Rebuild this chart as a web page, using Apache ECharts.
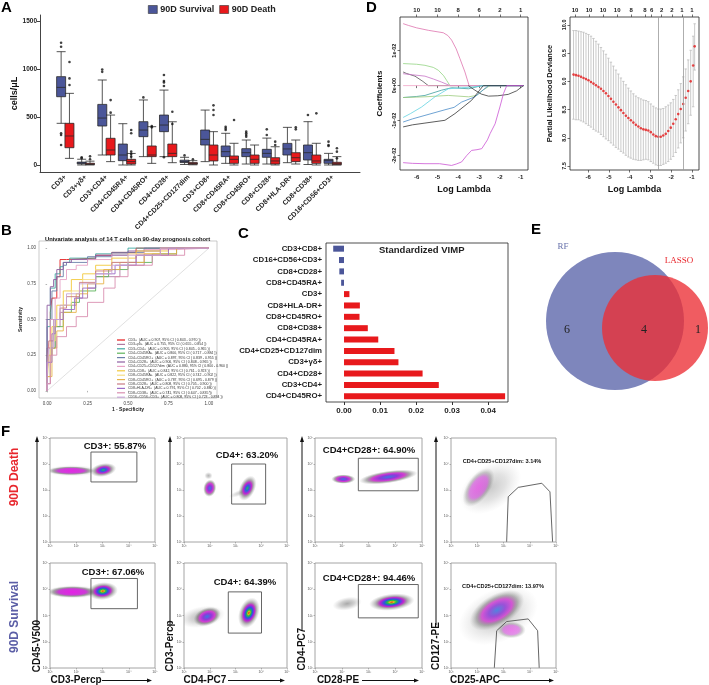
<!DOCTYPE html>
<html>
<head>
<meta charset="utf-8">
<script src="https://cdn.jsdelivr.net/npm/echarts@6/dist/echarts.min.js"></script>
<style>
html, body { margin: 0; padding: 0; background: #fff; }
#page { position: relative; width: 709px; height: 685px; overflow: hidden; }
.layer { position: absolute; left: 0; top: 0; width: 709px; height: 685px; }
</style>
</head>
<body>
<div id="page">
	<div class="layer" id="chartB"></div>
	<div class="layer" id="chartA"></div>
	<div class="layer" id="chartC"></div>
	<div class="layer" id="chartD"></div>
	<div class="layer" id="chartE"></div>
	<div class="layer" id="chartF"></div>
</div>
<script type="text/javascript">
var FONT = '"Liberation Sans", Arial, sans-serif';
var SERIF = '"Liberation Serif", "DejaVu Serif", serif';

// ---------- A: boxplots ----------
var cellTypes = ['CD3+', 'CD3+γδ+', 'CD3+CD4+', 'CD4+CD45RA+', 'CD4+CD45RO+', 'CD4+CD28+', 'CD4+CD25+CD127dim',
	'CD3+CD8+', 'CD8+CD45RA+', 'CD8+CD45RO+', 'CD8+CD28+', 'CD8+HLA-DR+', 'CD8+CD38+', 'CD16+CD56+CD3+'];
// [min, Q1, median, Q3, max]
var survivalBox = [
	[434, 711, 808, 920, 1180], [0, 12, 20, 30, 60], [104, 406, 489, 631, 885], [0, 45, 104, 218, 430],
	[87, 295, 364, 451, 677], [87, 347, 416, 520, 780], [5, 25, 35, 50, 80], [35, 208, 267, 364, 572],
	[17, 87, 139, 198, 330], [10, 87, 128, 170, 260], [10, 80, 121, 163, 280], [24, 104, 167, 225, 392],
	[5, 52, 128, 208, 451], [0, 17, 45, 59, 121]
];
var deathBox = [
	[69, 180, 302, 434, 746], [0, 5, 10, 18, 40], [35, 104, 156, 278, 520], [0, 10, 35, 59, 120],
	[17, 87, 104, 198, 399], [24, 87, 121, 218, 450], [2, 8, 15, 25, 45], [0, 42, 104, 208, 347],
	[0, 17, 59, 94, 226], [0, 17, 59, 104, 208], [0, 10, 42, 76, 190], [10, 35, 76, 128, 260],
	[0, 17, 42, 104, 226], [0, 3, 14, 28, 87]
];
var survivalOut = [[0, 1273], [0, 1232], [0, 330], [0, 312], [0, 208], [1, 80], [1, 70], [2, 995], [2, 970],
	[4, 704], [5, 937], [5, 874], [5, 860], [5, 822], [5, 80], [6, 100], [8, 399], [8, 381], [8, 364],
	[9, 347], [9, 330], [9, 312], [9, 295], [10, 371], [10, 312], [12, 520], [13, 243], [13, 208], [13, 198]];
var deathOut = [[0, 1072], [0, 902], [0, 833], [1, 90], [1, 60], [2, 676], [2, 545], [3, 364], [3, 330],
	[3, 139], [3, 114], [3, 87], [4, 406], [4, 392], [5, 555], [5, 427], [6, 60], [7, 621], [7, 572], [7, 520],
	[8, 468], [10, 243], [10, 208], [11, 392], [11, 371], [12, 538], [13, 174], [13, 139], [13, 69]];
var pLabels = ['P=2.0e-13', 'P=4.2e-06', 'P=2.5e-13', 'P=5.8e-08', 'P=7.4e-13', 'P=2.1e-13', 'P=2.1e-12',
	'P=6.7e-10', 'P=5.8e-09', 'P=2.1e-07', 'P=3.4e-10', 'P=1.5e-07', 'P=1.3e-05', 'P=2.4e-08'];
var pHeights = [1360, 115, 1058, 545, 791, 979, 115, 711, 486, 389, 347, 590, 573, 312];
var yTicksA = [0, 500, 1000, 1500];

// ---------- B: ROC ----------
var rocLegend = [
	'CD3+  (AUC = 0.907, 95% CI ( 0.843 - 0.970 ))', 'CD3+γδ+  (AUC = 0.755, 95% CI ( 0.655 - 0.854 ))',
	'CD3+CD4+  (AUC = 0.905, 95% CI ( 0.845 - 0.965 ))', 'CD4+CD45RA+  (AUC = 0.800, 95% CI ( 0.717 - 0.884 ))',
	'CD4+CD45RO+  (AUC = 0.897, 95% CI ( 0.839 - 0.955 ))', 'CD4+CD28+  (AUC = 0.906, 95% CI ( 0.848 - 0.965 ))',
	'CD4+CD25+CD127dim  (AUC = 0.880, 95% CI ( 0.800 - 0.960 ))', 'CD3+CD8+  (AUC = 0.842, 95% CI ( 0.761 - 0.923 ))',
	'CD8+CD45RA+  (AUC = 0.822, 95% CI ( 0.742 - 0.902 ))', 'CD8+CD45RO+  (AUC = 0.787, 95% CI ( 0.695 - 0.879 ))',
	'CD8+CD28+  (AUC = 0.808, 95% CI ( 0.705 - 0.900 ))', 'CD8+HLA-DR+  (AUC = 0.791, 95% CI ( 0.702 - 0.880 ))',
	'CD8+CD38+  (AUC = 0.741, 95% CI ( 0.647 - 0.835 ))', 'CD16+CD56+CD3+  (AUC = 0.808, 95% CI ( 0.723 - 0.894 ))'
];
var rocColors = ['#E41A1C', '#B07AA1', '#3FA7A0', '#5DB35A', '#6A7FA8', '#8E5EA2', '#E7A3C6',
	'#F2C83B', '#F5DE86', '#E6B34A', '#C97B84', '#9B6BC7', '#D98FB0', '#C9A7D6'];
var rocCurves = [
	[[0, 0], [0, 0.12], [0.02, 0.3], [0.03, 0.55], [0.06, 0.65], [0.08, 0.8], [0.12, 0.92], [0.3, 0.93], [0.4, 0.95], [0.55, 0.97], [0.62, 1], [1, 1]],
	[[0, 0], [0.02, 0.05], [0.05, 0.3], [0.08, 0.45], [0.1, 0.55], [0.18, 0.6], [0.25, 0.65], [0.3, 0.72], [0.45, 0.8], [0.6, 0.88], [0.8, 0.95], [1, 1]],
	[[0, 0], [0, 0.2], [0.02, 0.45], [0.05, 0.72], [0.08, 0.82], [0.1, 0.87], [0.14, 0.9], [0.3, 0.93], [0.5, 0.96], [0.7, 1], [1, 1]],
	[[0, 0], [0.02, 0.1], [0.05, 0.3], [0.1, 0.45], [0.15, 0.55], [0.2, 0.62], [0.3, 0.7], [0.38, 0.8], [0.5, 0.85], [0.65, 0.9], [0.8, 0.96], [1, 1]],
	[[0, 0], [0, 0.15], [0.03, 0.5], [0.06, 0.7], [0.1, 0.8], [0.12, 0.88], [0.25, 0.9], [0.4, 0.94], [0.6, 0.97], [0.75, 1], [1, 1]],
	[[0, 0], [0, 0.3], [0.02, 0.6], [0.04, 0.73], [0.06, 0.78], [0.1, 0.85], [0.15, 0.9], [0.3, 0.92], [0.5, 0.95], [0.7, 0.98], [0.85, 1], [1, 1]],
	[[0, 0], [0.02, 0.2], [0.05, 0.5], [0.08, 0.65], [0.12, 0.78], [0.18, 0.85], [0.25, 0.88], [0.4, 0.92], [0.6, 0.96], [0.8, 0.99], [1, 1]],
	[[0, 0], [0.01, 0.05], [0.03, 0.25], [0.06, 0.45], [0.1, 0.6], [0.15, 0.7], [0.22, 0.78], [0.3, 0.82], [0.4, 0.88], [0.55, 0.93], [0.75, 0.98], [1, 1]],
	[[0, 0], [0.02, 0.1], [0.05, 0.35], [0.1, 0.5], [0.15, 0.6], [0.22, 0.7], [0.3, 0.78], [0.4, 0.85], [0.5, 0.9], [0.7, 0.96], [1, 1]],
	[[0, 0], [0.03, 0.1], [0.06, 0.3], [0.1, 0.42], [0.18, 0.55], [0.25, 0.68], [0.35, 0.75], [0.45, 0.85], [0.6, 0.9], [0.8, 0.96], [1, 1]],
	[[0, 0], [0.01, 0.1], [0.04, 0.35], [0.08, 0.5], [0.12, 0.58], [0.2, 0.66], [0.3, 0.76], [0.4, 0.84], [0.55, 0.9], [0.7, 0.95], [1, 1]],
	[[0, 0], [0.03, 0.2], [0.05, 0.4], [0.1, 0.5], [0.17, 0.57], [0.22, 0.65], [0.3, 0.72], [0.42, 0.82], [0.55, 0.88], [0.75, 0.95], [1, 1]],
	[[0, 0], [0.02, 0.05], [0.06, 0.25], [0.12, 0.38], [0.18, 0.45], [0.25, 0.52], [0.35, 0.62], [0.42, 0.72], [0.5, 0.8], [0.65, 0.88], [0.85, 0.95], [1, 1]],
	[[0, 0], [0.01, 0.1], [0.04, 0.3], [0.08, 0.5], [0.12, 0.6], [0.2, 0.68], [0.3, 0.75], [0.4, 0.82], [0.5, 0.88], [0.7, 0.95], [1, 1]]
];
var rocTicks = [0, 0.25, 0.5, 0.75, 1];

// ---------- C: VIMP ----------
var vimpNames = ['CD3+CD8+', 'CD16+CD56+CD3+', 'CD8+CD28+', 'CD8+CD45RA+', 'CD3+', 'CD8+HLA-DR+', 'CD8+CD45RO+',
	'CD8+CD38+', 'CD4+CD45RA+', 'CD4+CD25+CD127dim', 'CD3+γδ+', 'CD4+CD28+', 'CD3+CD4+', 'CD4+CD45RO+'];
var vimpValues = [-0.003, -0.0014, -0.0013, -0.0008, 0.0015, 0.0044, 0.0043, 0.0066, 0.0095, 0.014, 0.0151, 0.0218, 0.0263, 0.0447];
var vimpTicks = [0, 0.01, 0.02, 0.03, 0.04];

// ---------- D: LASSO ----------
var lassoTicks = [-6, -5, -4, -3, -2, -1];
var lassoTopDf = [10, 10, 8, 6, 2, 1];
var coefTicks = [-0.02, -0.01, 0, 0.01];
var coefTickText = ['-2e-02', '-1e-02', '0e+00', '1e-02'];
var coefColors = ['#DE73AE', '#93D483', '#555555', '#C873C6', '#F0A3C6', '#3E9E9E', '#9CCB7E', '#62D3E2', '#4A8CC8', '#333333', '#3a3a3a', '#CC55D4'];
var coefPaths = [
	[[-6.65, 0.0177], [-6.4, 0.0172], [-6, 0.0165], [-5.44, 0.0158], [-4.72, 0.0151], [-4.5, 0.0143], [-4.32, 0.013], [-4.1, 0.0105], [-3.92, 0.0077], [-3.68, 0.0039], [-3.48, 0], [-0.87, 0]],
	[[-6.65, 0.0063], [-6, 0.0061], [-5.6, 0.0058], [-5.2, 0.0052], [-4.96, 0.0044], [-4.7, 0.0028], [-4.56, 0.0015], [-4.4, 0], [-0.87, 0]],
	[[-6.65, 0.0039], [-6.5, 0.0035], [-6.08, 0.0027], [-5.7, 0.0012], [-5.44, 0], [-0.87, 0]],
	[[-6.65, 0.0034], [-6.2, 0.0031], [-5.6, 0.0027], [-5.2, 0.0019], [-4.8, 0.001], [-4.4, 0], [-0.87, 0]],
	[[-6.65, 0], [-0.87, 0]],
	[[-6.65, -0.0034], [-6, -0.0031], [-5.6, -0.0028], [-4.8, -0.0013], [-4.32, -0.0006], [-3.5, -0.0009], [-2.87, 0], [-0.87, 0]],
	[[-6.65, -0.0034], [-5.6, -0.0032], [-4.48, -0.0028], [-3.5, -0.0032], [-3.12, -0.0028], [-2.8, -0.0012], [-2.47, 0], [-0.87, 0]],
	[[-6.65, -0.0091], [-6.3, -0.008], [-5.76, -0.0061], [-5.12, -0.0032], [-4.48, -0.0009], [-3.84, -0.0006], [-3.3, -0.0004], [-2.7, 0], [-0.87, 0]],
	[[-6.65, -0.0104], [-6.2, -0.0095], [-5.6, -0.0085], [-4.64, -0.0069], [-4.2, -0.0062], [-3.84, -0.0047], [-3.2, -0.0032], [-2.8, -0.0012], [-2.55, 0], [-0.87, 0]],
	[[-6.65, -0.0118], [-6.2, -0.0112], [-5.6, -0.0107], [-4.64, -0.0099], [-4.16, -0.008], [-3.36, -0.0042], [-3.0, -0.0015], [-2.8, 0], [-0.87, 0]],
	[[-3.52, 0], [-3.2, -0.0013], [-2.9, -0.0024], [-2.55, -0.003], [-2.1, -0.0029], [-1.6, -0.0025], [-1.2, -0.0015], [-0.87, 0]],
	[[-6.65, -0.022], [-6.2, -0.0222], [-5.6, -0.0223], [-4.9, -0.0223], [-4.32, -0.0228], [-4.1, -0.0224], [-3.84, -0.0218], [-3.6, -0.02], [-3.36, -0.0185], [-3.1, -0.0183], [-2.87, -0.018], [-2.6, -0.0155], [-2.47, -0.0137], [-2.23, -0.0109], [-2.0, -0.0061], [-1.83, -0.0023], [-1.67, 0], [-0.87, 0]]
];
var cvTopLam = [-6.63, -5.95, -5.28, -4.6, -3.93, -3.26, -2.94, -2.46, -1.96, -1.48, -1.0];
var cvTopDf = [10, 10, 10, 10, 8, 8, 6, 2, 2, 1, 1];
var cvLam = [-6.70, -6.58, -6.46, -6.34, -6.22, -6.10, -5.98, -5.86, -5.74, -5.62, -5.50, -5.38, -5.26, -5.14, -5.02,
	-4.90, -4.78, -4.66, -4.54, -4.42, -4.30, -4.18, -4.06, -3.94, -3.82, -3.70, -3.58, -3.46, -3.34, -3.22, -3.10,
	-2.98, -2.86, -2.74, -2.62, -2.50, -2.38, -2.26, -2.14, -2.02, -1.90, -1.78, -1.66, -1.54, -1.42, -1.30, -1.18,
	-1.06, -0.94, -0.87];
var cvMean = [9.12, 9.11, 9.10, 9.08, 9.06, 9.04, 9.02, 8.99, 8.96, 8.93, 8.90, 8.87, 8.83, 8.79, 8.74, 8.69, 8.64,
	8.59, 8.54, 8.49, 8.44, 8.39, 8.35, 8.31, 8.27, 8.23, 8.20, 8.17, 8.15, 8.14, 8.13, 8.10, 8.06, 8.03, 8.02, 8.02,
	8.04, 8.07, 8.12, 8.18, 8.25, 8.33, 8.42, 8.51, 8.60, 8.71, 8.83, 9.00, 9.28, 9.62];
var cvHi = [9.90, 9.90, 9.89, 9.88, 9.87, 9.85, 9.83, 9.80, 9.76, 9.71, 9.66, 9.60, 9.54, 9.48, 9.41, 9.34, 9.27,
	9.20, 9.13, 9.06, 9.00, 8.94, 8.88, 8.83, 8.78, 8.74, 8.71, 8.69, 8.67, 8.66, 8.64, 8.60, 8.56, 8.53, 8.51, 8.51,
	8.52, 8.55, 8.58, 8.62, 8.68, 8.75, 8.85, 8.96, 9.08, 9.22, 9.38, 9.55, 9.80, 10.02];
var cvLo = [8.33, 8.32, 8.32, 8.30, 8.28, 8.25, 8.22, 8.19, 8.15, 8.12, 8.10, 8.06, 8.02, 7.98, 7.95, 7.91, 7.87,
	7.83, 7.80, 7.76, 7.73, 7.69, 7.66, 7.64, 7.62, 7.61, 7.60, 7.60, 7.61, 7.62, 7.61, 7.58, 7.55, 7.52, 7.51, 7.51,
	7.53, 7.55, 7.58, 7.62, 7.67, 7.74, 7.82, 7.91, 8.00, 8.12, 8.25, 8.40, 8.55, 9.20];
var cvTicks = [7.5, 8, 8.5, 9, 9.5, 10];
var cvChosen = [-2.6, -1.4];

// ---------- E: Venn ----------
var vennSets = ['RF', 'LASSO'];
var vennCounts = [6, 4, 1];

// ---------- F: flow cytometry ----------
var flowDecades = [1, 2, 3, 4, 5];
var flowTickText = ['10¹', '10²', '10³', '10⁴', '10⁵'];
var flowGateText = ['CD3+: 55.87%', 'CD4+: 63.20%', 'CD4+CD28+: 64.90%', 'CD4+CD25+CD127dim: 3.14%',
	'CD3+: 67.06%', 'CD4+: 64.39%', 'CD4+CD28+: 94.46%', 'CD4+CD25+CD127dim: 13.97%'];
var flowXNames = ['CD3-Percp', 'CD4-PC7', 'CD28-PE', 'CD25-APC'];
var flowYNames = ['CD45-V500', 'CD3-Percp', 'CD4-PC7', 'CD127-PE'];
var flowRows = ['90D Death', '90D Survival'];
// populations: [log x, log y, half-width, half-height (decades), angle, colour depth, opacity]
var flowClouds = [
	[[1.85, 3.74, 1.0, 0.22, 0, 0, 0.6], [1.8, 3.74, 0.9, 0.17, 0, 1, 0.95], [3.03, 3.77, 0.5, 0.26, 10, 3, 1]],
	[[1.95, 3.55, 0.16, 0.14, 0, 0, 0.7], [2.0, 3.07, 0.34, 0.25, 80, 2, 1], [3.2, 2.9, 0.5, 0.12, 20, 0, 0.5], [3.46, 3.07, 0.52, 0.3, 65, 3, 1]],
	[[2.06, 3.42, 0.45, 0.18, 0, 2, 1], [3.74, 3.5, 1.1, 0.24, 8, 2, 1]],
	[[2.5, 3.1, 1.3, 0.85, 35, 0, 0.5], [2.05, 3.1, 0.85, 0.45, 55, 1, 0.6]],
	[[1.9, 3.9, 1.05, 0.26, 0, 0, 0.6], [1.85, 3.9, 0.95, 0.22, 0, 1, 1], [3.01, 3.93, 0.58, 0.34, 5, 4, 1]],
	[[1.7, 2.95, 0.9, 0.4, 10, 0, 0.7], [1.9, 2.96, 0.55, 0.34, 20, 2, 1], [3.52, 3.1, 0.62, 0.38, 70, 4, 1]],
	[[2.2, 3.45, 0.55, 0.25, 10, 0, 0.8], [3.87, 3.51, 0.85, 0.32, 6, 4, 1]],
	[[2.8, 3.0, 1.6, 1.0, 25, 0, 0.55], [2.75, 3.2, 1.15, 0.6, 30, 2, 0.85], [3.3, 2.45, 0.55, 0.32, 0, 1, 0.55]]
];
var flowGates = [
	[[2.56, 3.31], [4.31, 3.31], [4.31, 4.46], [2.56, 4.46], [2.56, 3.31]],
	[[2.85, 2.46], [4.17, 2.46], [4.17, 4.0], [2.85, 4.0], [2.85, 2.46]],
	[[2.62, 2.97], [4.86, 2.97], [4.86, 4.22], [2.62, 4.22], [2.62, 2.97]],
	[[3.12, 1.01], [3.18, 2.74], [3.56, 3.10], [4.46, 3.26], [4.77, 2.93], [4.87, 1.01]],
	[[2.56, 3.26], [4.33, 3.26], [4.33, 4.41], [2.56, 4.41], [2.56, 3.26]],
	[[2.72, 2.33], [4.01, 2.33], [4.01, 3.9], [2.72, 3.9], [2.72, 2.33]],
	[[2.62, 2.91], [4.86, 2.91], [4.86, 4.18], [2.62, 4.18], [2.62, 2.91]],
	[[2.65, 1.01], [2.74, 2.42], [3.12, 2.77], [3.94, 2.87], [4.30, 2.42], [4.36, 1.01]]
];

// ====================== A ======================
var chartA = echarts.init(document.getElementById('chartA'));
var boldText = { fontFamily: FONT, fontWeight: 'bold', color: '#222' };
var survivalColor = '#4B5699', deathColor = '#E8191C';
chartA.setOption({
	animation: false,
	textStyle: { fontFamily: FONT },
	legend: {
		top: 0, left: 143, itemWidth: 9, itemHeight: 8, itemGap: 5, icon: 'rect',
		data: [
			{ name: '90D Survival', itemStyle: { color: survivalColor, borderColor: '#333', borderWidth: 0.6 } },
			{ name: '90D Death', itemStyle: { color: deathColor, borderColor: '#333', borderWidth: 0.6 } }
		],
		textStyle: { fontSize: 9, fontWeight: 'bold', color: '#222', padding: [0, 0, 0, -2] }
	},
	grid: [
		{ left: 55, top: 15, width: 288, height: 157, outerBoundsMode: 'none' },
		{ left: 40, top: 15, width: 320, height: 157, outerBoundsMode: 'none' }
	],
	xAxis: [
		{
			type: 'category', gridIndex: 0, data: cellTypes,
			axisLine: { show: false },
			axisTick: { alignWithLabel: true, length: 3, lineStyle: { color: '#444' } },
			axisLabel: Object.assign({ rotate: 45, interval: 0, fontSize: 7, margin: 4 }, boldText)
		},
		{
			type: 'value', gridIndex: 1, min: 0, max: 1,
			axisLine: { lineStyle: { color: '#444', width: 1 } },
			axisTick: { show: false }, axisLabel: { show: false }, splitLine: { show: false }
		}
	],
	yAxis: [
		{
			type: 'value', gridIndex: 0, min: -73, max: 1562, offset: 15,
			axisLine: { show: true, lineStyle: { color: '#444', width: 1 } },
			axisTick: { show: true, length: 3, customValues: yTicksA, lineStyle: { color: '#444' } },
			axisLabel: Object.assign({ customValues: yTicksA, fontSize: 6.5, margin: 3, formatter: function (v) { return String(v); } }, boldText),
			splitLine: { show: false },
			name: 'cells/μL', nameLocation: 'middle', nameGap: 20,
			nameTextStyle: { fontSize: 9, fontWeight: 'bold', color: '#111', fontFamily: FONT }
		},
		{ type: 'value', gridIndex: 1, show: false }
	],
	series: [
		{
			name: '90D Survival', type: 'boxplot', data: survivalBox, boxWidth: [9, 9],
			itemStyle: { color: survivalColor, borderColor: '#2a2a2a', borderWidth: 0.8 }
		},
		{
			name: '90D Death', type: 'boxplot', data: deathBox, boxWidth: [9, 9],
			itemStyle: { color: deathColor, borderColor: '#2a2a2a', borderWidth: 0.8 }
		},
		{
			type: 'scatter', data: survivalOut, symbolSize: 2.6, symbolOffset: [-4.2, 0],
			itemStyle: { color: '#111' }, silent: true
		},
		{
			type: 'scatter', data: deathOut, symbolSize: 2.6, symbolOffset: [4.2, 0],
			itemStyle: { color: '#111' }, silent: true
		},
		{
			type: 'scatter', silent: true, symbolSize: 1, itemStyle: { opacity: 0 },
			data: pHeights.map(function (h, i) { return [i, h]; }),
			label: {
				show: true, position: 'inside', fontSize: 6, fontWeight: 'bold', color: '#333', fontFamily: FONT,
				formatter: function (p) { return pLabels[p.dataIndex]; }
			}
		}
	],
	graphic: [
		{ type: 'text', left: 1, top: 0, style: { text: 'A', font: 'bold 15px ' + FONT, fill: '#000' } },
		{ type: 'text', left: 1, top: 223, style: { text: 'B', font: 'bold 15px ' + FONT, fill: '#000' } },
		{ type: 'text', left: 238, top: 226, style: { text: 'C', font: 'bold 15px ' + FONT, fill: '#000' } },
		{ type: 'text', left: 366, top: 0, style: { text: 'D', font: 'bold 15px ' + FONT, fill: '#000' } },
		{ type: 'text', left: 531, top: 222, style: { text: 'E', font: 'bold 15px ' + FONT, fill: '#000' } },
		{ type: 'text', left: 1, top: 424, style: { text: 'F', font: 'bold 15px ' + FONT, fill: '#000' } }
	]
});

// ====================== B ======================
var chartB = echarts.init(document.getElementById('chartB'));
var rocSeries = [{
	type: 'line', data: [[0, 0], [1, 1]], showSymbol: false, silent: true,
	lineStyle: { color: '#d8d8d8', width: 0.8 }
}];
rocCurves.forEach(function (c, i) {
	rocSeries.push({
		name: cellTypes[i], type: 'line', step: 'start', data: c, showSymbol: false,
		color: rocColors[i], lineStyle: { width: 0.9, color: rocColors[i] }
	});
});
var smallAxisLabel = { fontSize: 4.5, color: '#444', fontFamily: FONT, margin: 3 };
chartB.setOption({
	animation: false,
	title: {
		text: 'Univariate analysis of 14 T cells on 90-day prognosis cohort', left: 40, top: 231,
		textStyle: { fontSize: 5.8, fontWeight: 'bold', color: '#111', fontFamily: FONT }
	},
	grid: { left: 39, top: 241, width: 178, height: 157, show: true, borderColor: '#b5b5b5', borderWidth: 0.7, outerBoundsMode: 'none' },
	legend: {
		orient: 'vertical', left: 112, top: 333, itemWidth: 8, itemHeight: 1.2, itemGap: 0.4, icon: 'rect',
		data: cellTypes,
		formatter: function (n) { return rocLegend[cellTypes.indexOf(n)]; },
		textStyle: { fontSize: 3.5, lineHeight: 3.9, color: '#333', fontFamily: FONT, padding: [0, 0, 0, -2] }
	},
	xAxis: {
		type: 'value', min: -0.05, max: 1.05,
		axisLine: { show: false }, splitLine: { show: false },
		axisTick: { show: true, length: 1.5, customValues: rocTicks, lineStyle: { color: '#666', width: 0.5 } },
		axisLabel: Object.assign({ customValues: rocTicks, formatter: function (v) { return v.toFixed(2); } }, smallAxisLabel),
		name: '1 - Specificity', nameLocation: 'middle', nameGap: 8,
		nameTextStyle: { fontSize: 5, fontWeight: 'bold', color: '#222', fontFamily: FONT }
	},
	yAxis: {
		type: 'value', min: -0.05, max: 1.05,
		axisLine: { show: false }, splitLine: { show: false },
		axisTick: { show: true, length: 1.5, customValues: rocTicks, lineStyle: { color: '#666', width: 0.5 } },
		axisLabel: Object.assign({ customValues: rocTicks, formatter: function (v) { return v.toFixed(2); } }, smallAxisLabel),
		name: 'Sensitivity', nameLocation: 'middle', nameGap: 13,
		nameTextStyle: { fontSize: 5, fontWeight: 'bold', color: '#222', fontFamily: FONT }
	},
	series: rocSeries
});

// ====================== C ======================
var chartC = echarts.init(document.getElementById('chartC'));
chartC.setOption({
	animation: false,
	title: {
		text: 'Standardized VIMP', left: 374, top: 240,
		textStyle: { fontSize: 9.5, fontWeight: 'bold', color: '#222', fontFamily: FONT }
	},
	grid: { left: 326, top: 243, width: 182, height: 159, show: true, borderColor: '#222', borderWidth: 0.8, outerBoundsMode: 'none' },
	yAxis: {
		type: 'category', data: vimpNames, inverse: true,
		axisLine: { show: false },
		axisTick: { alignWithLabel: true, length: 3, lineStyle: { color: '#333' } },
		axisLabel: Object.assign({ fontSize: 7.8, margin: 4, interval: 0 }, boldText)
	},
	xAxis: {
		type: 'value', min: -0.005, max: 0.0455,
		axisLine: { show: false }, splitLine: { show: false },
		axisTick: { show: true, length: 3, customValues: vimpTicks, lineStyle: { color: '#333' } },
		axisLabel: Object.assign({ customValues: vimpTicks, fontSize: 8, margin: 5, formatter: function (v) { return v.toFixed(2); } }, boldText)
	},
	series: [{
		type: 'bar', data: vimpValues, barWidth: 6,
		itemStyle: { color: function (p) { return p.value < 0 ? survivalColor : deathColor; } }
	}]
});

// ====================== D ======================
var chartD = echarts.init(document.getElementById('chartD'));
var tinyBold = { fontSize: 6, fontWeight: 'bold', color: '#222', fontFamily: FONT };
var dNameStyle = { fontSize: 9, fontWeight: 'bold', color: '#111', fontFamily: FONT };
var dTick = { show: true, length: 2.5, lineStyle: { color: '#333', width: 0.7 } };
var coefSeries = coefPaths.map(function (p, i) {
	return {
		type: 'line', xAxisIndex: 0, yAxisIndex: 0, data: p, showSymbol: false, silent: true,
		lineStyle: { width: 0.8, color: coefColors[i] }
	};
});
chartD.setOption({
	animation: false,
	grid: [
		{ left: 400, top: 17, width: 128, height: 153, show: true, borderColor: '#222', borderWidth: 0.8, outerBoundsMode: 'none' },
		{ left: 570, top: 17, width: 129, height: 153, show: true, borderColor: '#222', borderWidth: 0.8, outerBoundsMode: 'none' }
	],
	xAxis: [
		{
			gridIndex: 0, type: 'value', min: -6.8, max: -0.65, position: 'bottom',
			axisLine: { show: false }, splitLine: { show: false },
			axisTick: Object.assign({ customValues: lassoTicks }, dTick),
			axisLabel: Object.assign({ customValues: lassoTicks, margin: 4 }, tinyBold),
			name: 'Log Lambda', nameLocation: 'middle', nameGap: 15, nameTextStyle: dNameStyle
		},
		{
			gridIndex: 0, type: 'value', min: -6.8, max: -0.65, position: 'top',
			axisLine: { show: false }, splitLine: { show: false },
			axisTick: Object.assign({ customValues: lassoTicks }, dTick),
			axisLabel: Object.assign({
				customValues: lassoTicks, margin: 4,
				formatter: function (v) { return String(lassoTopDf[lassoTicks.indexOf(v)]); }
			}, tinyBold)
		},
		{
			gridIndex: 1, type: 'value', min: -6.87, max: -0.66, position: 'bottom',
			axisLine: { show: false }, splitLine: { show: false },
			axisTick: Object.assign({ customValues: lassoTicks }, dTick),
			axisLabel: Object.assign({ customValues: lassoTicks, margin: 4 }, tinyBold),
			name: 'Log Lambda', nameLocation: 'middle', nameGap: 15, nameTextStyle: dNameStyle
		},
		{
			gridIndex: 1, type: 'value', min: -6.87, max: -0.66, position: 'top',
			axisLine: { show: false }, splitLine: { show: false },
			axisTick: Object.assign({ customValues: cvTopLam }, dTick),
			axisLabel: Object.assign({
				customValues: cvTopLam, margin: 4, hideOverlap: false,
				formatter: function (v) { return String(cvTopDf[cvTopLam.indexOf(v)]); }
			}, tinyBold)
		}
	],
	yAxis: [
		{
			gridIndex: 0, type: 'value', min: -0.0241, max: 0.0196,
			axisLine: { show: false }, splitLine: { show: false },
			axisTick: Object.assign({ customValues: coefTicks }, dTick),
			axisLabel: Object.assign({
				customValues: coefTicks, rotate: 90, margin: 3, fontSize: 5.5,
				formatter: function (v) { return coefTickText[coefTicks.indexOf(v)]; }
			}, { fontWeight: 'bold', color: '#222', fontFamily: FONT }),
			name: 'Coefficients', nameLocation: 'middle', nameGap: 16,
			nameTextStyle: { fontSize: 8, fontWeight: 'bold', color: '#111', fontFamily: FONT }
		},
		{
			gridIndex: 1, type: 'value', min: 7.43, max: 10.14,
			axisLine: { show: false }, splitLine: { show: false },
			axisTick: Object.assign({ customValues: cvTicks }, dTick),
			axisLabel: Object.assign({
				customValues: cvTicks, rotate: 90, margin: 3, fontSize: 5.5,
				formatter: function (v) { return v.toFixed(1); }
			}, { fontWeight: 'bold', color: '#222', fontFamily: FONT }),
			name: 'Partial Likelihood Deviance', nameLocation: 'middle', nameGap: 16,
			nameTextStyle: { fontSize: 7.5, fontWeight: 'bold', color: '#111', fontFamily: FONT }
		}
	],
	series: coefSeries.concat([
		{
			type: 'custom', xAxisIndex: 2, yAxisIndex: 1, silent: true,
			encode: { x: 0, y: [1, 2] },
			data: cvLam.map(function (l, i) { return [l, cvLo[i], cvHi[i]]; }),
			renderItem: function (params, api) {
				var top = api.coord([api.value(0), api.value(2)]);
				var bot = api.coord([api.value(0), api.value(1)]);
				var st = { stroke: '#bdbdbd', lineWidth: 0.8 };
				return {
					type: 'group', children: [
						{ type: 'line', shape: { x1: top[0], y1: top[1], x2: bot[0], y2: bot[1] }, style: st },
						{ type: 'line', shape: { x1: top[0] - 1.2, y1: top[1], x2: top[0] + 1.2, y2: top[1] }, style: st },
						{ type: 'line', shape: { x1: bot[0] - 1.2, y1: bot[1], x2: bot[0] + 1.2, y2: bot[1] }, style: st }
					]
				};
			}
		},
		{
			type: 'scatter', xAxisIndex: 2, yAxisIndex: 1, silent: true, symbolSize: 2.6,
			data: cvLam.map(function (l, i) { return [l, cvMean[i]]; }),
			itemStyle: { color: '#E41A1C' },
			markLine: {
				silent: true, symbol: 'none', label: { show: false },
				lineStyle: { color: '#999', type: 'solid', width: 0.8 },
				data: cvChosen.map(function (v) { return { xAxis: v }; })
			}
		}
	])
});

// ====================== E ======================
var chartE = echarts.init(document.getElementById('chartE'));
// circle geometry (layout): centre x, centre y, radius in the hidden frame
var vennGeom = [[70, 76, 69], [110, 83, 53]];
var vennFill = ['#7E86BC', 'rgba(236,46,52,0.78)'];
var vennText = function (x, y, txt, size, fill) {
	return { type: 'text', x: x, y: y, z: 100, style: { text: txt, font: size + 'px ' + SERIF, fill: fill, align: 'center', verticalAlign: 'middle' } };
};
chartE.setOption({
	animation: false,
	grid: { left: 545, top: 245, width: 164, height: 150, show: false, outerBoundsMode: 'none' },
	xAxis: { type: 'value', min: 0, max: 164, show: false },
	yAxis: { type: 'value', min: 0, max: 150, inverse: true, show: false },
	series: [{
		type: 'custom', silent: true, clip: false,
		data: vennSets.map(function (s, i) { return vennGeom[i].concat([i]); }),
		renderItem: function (params, api) {
			var c = api.coord([api.value(0), api.value(1)]);
			var r = api.size([api.value(2), 0])[0];
			return { type: 'circle', shape: { cx: c[0], cy: c[1], r: r }, style: { fill: vennFill[api.value(3)] } };
		}
	}],
	graphic: [
		vennText(563, 247, vennSets[0], 9, '#6670AA'),
		vennText(679, 261, vennSets[1], 9, '#E8262C'),
		vennText(567, 330, String(vennCounts[0]), 12, '#222'),
		vennText(644, 330, String(vennCounts[1]), 12, '#222'),
		vennText(698, 330, String(vennCounts[2]), 12, '#222')
	]
});

// ====================== F ======================
var chartF = echarts.init(document.getElementById('chartF'));
var flowCols = [[50, 105], [184, 103], [315, 107], [451, 105]];   // left, width
var flowRowBox = [[438, 104], [563, 105]];                        // top, height
var flowLabelPos = [[115, 446], [247, 455], [369, 450], [502, 461], [113, 572], [245, 582], [369, 578], [503, 586]];

function cloudFill(level) {
	var grey = 'rgba(100,100,100,0.5)', clear = 'rgba(150,150,150,0)';
	var stops;
	if (level >= 4) {
		stops = [[0, '#D8261A'], [0.1, '#E3B020'], [0.2, '#1FBF45'], [0.34, '#2A55E0'], [0.52, '#C421D2'], [0.7, grey], [1, clear]];
	} else if (level === 3) {
		stops = [[0, '#26C24A'], [0.2, '#2A60E0'], [0.45, '#C423D2'], [0.68, grey], [1, clear]];
	} else if (level === 2) {
		stops = [[0, '#3A78E0'], [0.3, '#8E3AD8'], [0.55, '#D23ED2'], [0.75, grey], [1, clear]];
	} else if (level === 1) {
		stops = [[0, '#E61EE6'], [0.55, '#CC3AD6'], [0.78, grey], [1, clear]];
	} else {
		stops = [[0, 'rgba(90,90,90,0.65)'], [0.5, 'rgba(110,110,110,0.4)'], [1, clear]];
	}
	return new echarts.graphic.RadialGradient(0.5, 0.5, 0.5, stops.map(function (s) { return { offset: s[0], color: s[1] }; }));
}

var fGrids = [], fX = [], fY = [], fSeries = [], fGraphic = [];
var flowAxisLabel = { fontSize: 3.6, color: '#555', fontFamily: FONT, margin: 2, formatter: function (v) { return flowTickText[flowDecades.indexOf(v)]; } };
for (var r = 0; r < 2; r++) {
	for (var c = 0; c < 4; c++) {
		var k = r * 4 + c;
		fGrids.push({
			left: flowCols[c][0], width: flowCols[c][1], top: flowRowBox[r][0], height: flowRowBox[r][1],
			show: true, borderColor: '#9a9a9a', borderWidth: 0.9, backgroundColor: '#fff', outerBoundsMode: 'none'
		});
		fX.push({
			gridIndex: k, type: 'value', min: 1, max: 5, interval: 1,
			axisLine: { show: false }, splitLine: { show: false },
			axisTick: { show: true, length: 1.5, lineStyle: { color: '#777', width: 0.5 } },
			axisLabel: flowAxisLabel
		});
		fY.push({
			gridIndex: k, type: 'value', min: 1, max: 5, interval: 1,
			axisLine: { show: false }, splitLine: { show: false },
			axisTick: { show: true, length: 1.5, lineStyle: { color: '#777', width: 0.5 } },
			axisLabel: flowAxisLabel
		});
		fSeries.push({
			type: 'custom', xAxisIndex: k, yAxisIndex: k, silent: true, clip: true,
			data: flowClouds[k],
			renderItem: function (params, api) {
				var ctr = api.coord([api.value(0), api.value(1)]);
				var sz = api.size([api.value(2), api.value(3)]);
				return {
					type: 'circle', x: ctr[0], y: ctr[1],
					rotation: api.value(4) * Math.PI / 180,
					scaleY: sz[1] / sz[0],
					shape: { cx: 0, cy: 0, r: sz[0] },
					style: { fill: cloudFill(api.value(5)), opacity: api.value(6) }
				};
			}
		});
		fSeries.push({
			type: 'line', xAxisIndex: k, yAxisIndex: k, silent: true, showSymbol: false,
			data: flowGates[k], lineStyle: { color: '#555', width: 0.9 }
		});
		fGraphic.push({
			type: 'text', x: flowLabelPos[k][0], y: flowLabelPos[k][1],
			style: {
				text: flowGateText[k], align: 'center', verticalAlign: 'middle', fill: '#111',
				font: 'bold ' + (c === 3 ? 5.6 : 9.5) + 'px ' + FONT
			}
		});
	}
}
// axis titles with arrows, below / left of each column
var arrowX = [[76, 102, 152], [205, 228, 285], [338, 362, 419], [475, 499, 554]]; // label centre, line start, tip
var arrowY = [[37, 646, 626], [170, 646, 627], [302, 649, 630], [436, 646, 625]];   // x, label centre, line start
for (var c2 = 0; c2 < 4; c2++) {
	var ax = arrowX[c2], ay = arrowY[c2];
	fGraphic.push(
		{ type: 'text', x: ax[0], y: 680, style: { text: flowXNames[c2], align: 'center', verticalAlign: 'middle', font: 'bold 10px ' + FONT, fill: '#111' } },
		{ type: 'line', shape: { x1: ax[1], y1: 680.5, x2: ax[2] - 4, y2: 680.5 }, style: { stroke: '#111', lineWidth: 1 } },
		{ type: 'polygon', shape: { points: [[ax[2], 680.5], [ax[2] - 5, 678.5], [ax[2] - 5, 682.5]] }, style: { fill: '#111' } },
		{ type: 'text', x: ay[0], y: ay[1], rotation: Math.PI / 2, style: { text: flowYNames[c2], align: 'center', verticalAlign: 'middle', font: 'bold 10px ' + FONT, fill: '#111' } },
		{ type: 'line', shape: { x1: ay[0], y1: ay[2], x2: ay[0], y2: 441 }, style: { stroke: '#111', lineWidth: 1 } },
		{ type: 'polygon', shape: { points: [[ay[0], 436], [ay[0] - 2, 442], [ay[0] + 2, 442]] }, style: { fill: '#111' } }
	);
}
fGraphic.push(
	{ type: 'text', x: 15, y: 477, rotation: Math.PI / 2, style: { text: flowRows[0], align: 'center', verticalAlign: 'middle', font: 'bold 12px ' + FONT, fill: '#E8272D' } },
	{ type: 'text', x: 15, y: 617, rotation: Math.PI / 2, style: { text: flowRows[1], align: 'center', verticalAlign: 'middle', font: 'bold 12px ' + FONT, fill: '#5B5EA6' } }
);
chartF.setOption({
	animation: false,
	grid: fGrids,
	xAxis: fX,
	yAxis: fY,
	series: fSeries,
	graphic: fGraphic
});
</script>
</body>
</html>
